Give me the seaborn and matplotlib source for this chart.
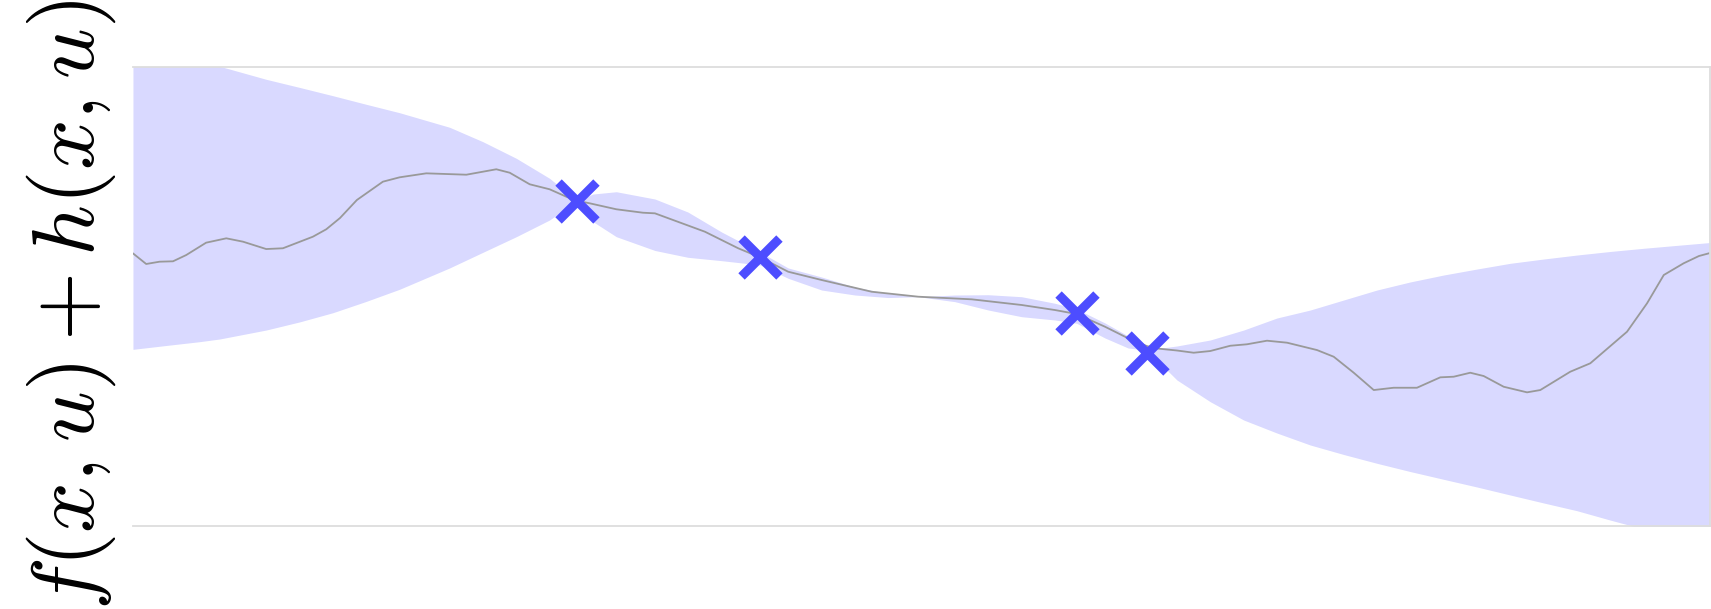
import numpy as np
import matplotlib
matplotlib.use("Agg")
import matplotlib.pyplot as plt
import seaborn as sns

# Observed inputs / targets
obs_x = [2.815, 3.976, 5.984, 6.428]
obs_y = [1.249, 0.510, -0.221, -0.735]

# One posterior sample path
sample_x = [0.000, 0.084, 0.169, 0.254, 0.338, 0.464, 0.592, 0.698, 0.845, 0.951,
            1.141, 1.226, 1.313, 1.420, 1.585, 1.691, 1.860, 2.114, 2.304, 2.389,
            2.516, 2.642, 2.748, 2.815, 2.896, 3.065, 3.234, 3.310, 3.627, 3.838,
            3.976, 4.155, 4.367, 4.684, 4.980, 5.318, 5.635, 5.847, 5.984, 6.164,
            6.311, 6.428, 6.481, 6.620, 6.726, 6.831, 6.958, 7.064, 7.191, 7.318,
            7.508, 7.614, 7.741, 7.868, 7.994, 8.142, 8.290, 8.375, 8.480, 8.565,
            8.692, 8.840, 8.924, 9.114, 9.241, 9.474, 9.601, 9.707, 9.833, 9.930,
            10.000]
sample_y = [0.562, 0.423, 0.453, 0.458, 0.540, 0.701, 0.758, 0.714, 0.618, 0.628,
            0.779, 0.876, 1.023, 1.258, 1.497, 1.554, 1.606, 1.588, 1.659, 1.614,
            1.463, 1.398, 1.301, 1.249, 1.215, 1.137, 1.092, 1.084, 0.844, 0.628,
            0.510, 0.322, 0.214, 0.061, -0.004, -0.038, -0.112, -0.178, -0.230, -0.396,
            -0.547, -0.647, -0.677, -0.706, -0.735, -0.713, -0.644, -0.625, -0.578, -0.604,
            -0.700, -0.787, -0.996, -1.222, -1.192, -1.192, -1.056, -1.048, -0.996, -1.039,
            -1.179, -1.252, -1.222, -0.983, -0.873, -0.461, -0.090, 0.279, 0.432, 0.527,
            0.566]

# Confidence band
band_x = [0.000, 0.209, 0.423, 0.550, 0.845, 1.059, 1.268, 1.477, 1.691, 2.008,
          2.219, 2.431, 2.642, 2.815, 2.917, 3.065, 3.310, 3.519, 3.733, 3.976,
          4.155, 4.367, 4.578, 4.789, 4.980, 5.212, 5.424, 5.635, 5.847, 5.984,
          6.164, 6.311, 6.428, 6.620, 6.831, 7.043, 7.254, 7.465, 7.677, 7.888,
          8.098, 8.311, 8.522, 8.734, 8.946, 9.157, 9.366, 9.580, 9.797, 10.000]
band_hi = [3.320, 3.198, 3.076, 3.003, 2.833, 2.726, 2.619, 2.508, 2.397, 2.207,
           2.019, 1.802, 1.541, 1.249, 1.336, 1.366, 1.271, 1.101, 0.840, 0.579,
           0.371, 0.253, 0.122, 0.038, -0.004, 0.018, 0.022, -0.004, -0.090, -0.165,
           -0.347, -0.517, -0.700, -0.647, -0.569, -0.439, -0.282, -0.178, -0.047, 0.083,
           0.188, 0.279, 0.357, 0.432, 0.488, 0.540, 0.586, 0.628, 0.667, 0.703]
band_lo = [-0.691, -0.641, -0.591, -0.556, -0.439, -0.332, -0.213, -0.067, 0.093, 0.371,
           0.575, 0.779, 0.997, 1.249, 0.975, 0.779, 0.599, 0.510, 0.466, 0.410,
           0.236, 0.083, 0.018, -0.015, -0.004, -0.069, -0.178, -0.265, -0.308, -0.351,
           -0.543, -0.674, -0.700, -1.091, -1.374, -1.613, -1.783, -1.939, -2.063, -2.178,
           -2.285, -2.387, -2.487, -2.592, -2.696, -2.797, -2.918, -3.036, -3.153, -3.270]

sns.set_style("white")
plt.rcParams["mathtext.fontset"] = "cm"

fig, ax = plt.subplots(figsize=(17.11, 6.09), dpi=100)
fig.subplots_adjust(left=0.0777, right=0.9994, top=0.8908, bottom=0.1358)

ax.fill_between(band_x, band_lo, band_hi, color="#0000ff", alpha=0.15, lw=0, zorder=1)
sns.lineplot(x=sample_x, y=sample_y, color="#999999", lw=1.3, ax=ax, zorder=2)
sns.scatterplot(x=obs_x, y=obs_y, marker="x", s=27.3 ** 2, linewidth=6.5,
                color="#4d4dff", ax=ax, zorder=3)

ax.set_xlim(0, 10)
ax.set_ylim(-3, 3)
ax.set_xticks([])
ax.set_yticks([])
ax.set_ylabel(r"$f(x,u) + h(x,u)$", fontsize=64, color="black")
ax.yaxis.set_label_coords(-0.0095, 0.481)

for side in ["top", "bottom", "right"]:
    ax.spines[side].set_color("#dddddd")
    ax.spines[side].set_linewidth(1.3)
ax.spines["left"].set_visible(False)

fig.savefig("out.png", dpi=100)
